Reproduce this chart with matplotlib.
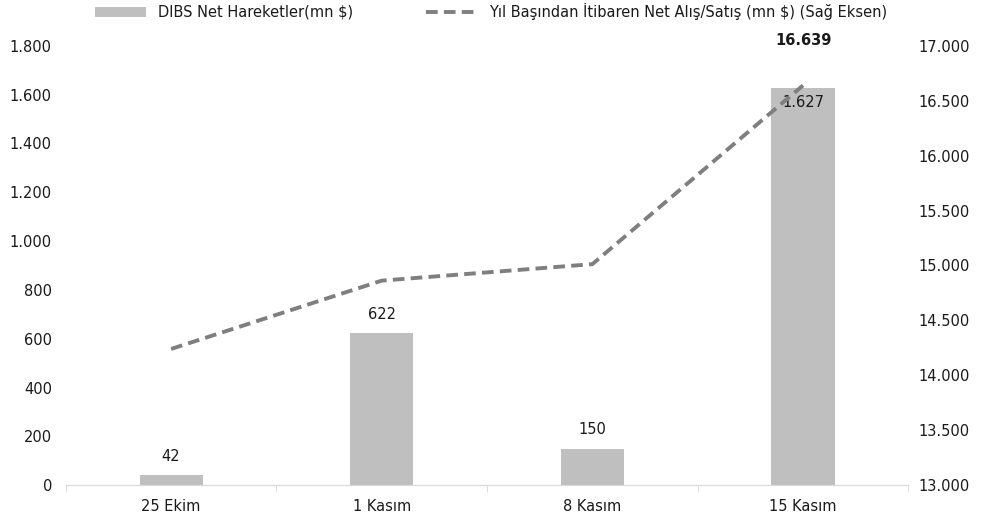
import numpy as np
import matplotlib.pyplot as plt
from matplotlib.lines import Line2D
from matplotlib.patches import Patch

plt.rcParams['font.family'] = ['DejaVu Sans']

# data
categories = ["25 Ekim", "1 Kasım", "8 Kasım", "15 Kasım"]
net_flows = [42, 622, 150, 1627]
cumulative = [14240, 14862, 15012, 16639]

bar_color = '#bfbfbf'
line_color = '#7f7f7f'
text_color = '#1a1a1a'

fig = plt.figure(figsize=(9.82, 5.2), dpi=100)
ax = fig.add_axes([0.067, 0.067, 0.858, 0.845])
ax2 = ax.twinx()

x = np.arange(len(categories))
ax.bar(x, net_flows, width=0.3, color=bar_color, zorder=2)
ax.set_xlim(-0.5, len(categories) - 0.5)
ax.set_ylim(0, 1800)
ax.set_yticks(np.arange(0, 1801, 200))
ax.set_yticklabels([f"{v:,}".replace(",", ".") for v in range(0, 1801, 200)])

ax2.plot(x, cumulative, color=line_color, linestyle=(0, (3, 1.6)), linewidth=2.8, zorder=3)
ax2.set_ylim(13000, 17000)
ax2.set_yticks(np.arange(13000, 17001, 500))
ax2.set_yticklabels([f"{v:,}".replace(",", ".") for v in range(13000, 17001, 500)])

# bar labels
for i, v in enumerate(net_flows):
    lbl = f"{v:,}".replace(",", ".")
    if i == len(net_flows) - 1:
        ax.text(i, v - 30, lbl, ha='center', va='top', fontsize=10.5, color=text_color, zorder=5)
    else:
        ax.annotate(lbl, (i, v), xytext=(0, 8), textcoords='offset points',
                    ha='center', va='bottom', fontsize=10.5, color=text_color)

# last cumulative label
last = len(cumulative) - 1
ax2.annotate(f"{cumulative[last]:,}".replace(",", "."), (last, cumulative[last]),
             xytext=(0, 27), textcoords='offset points', ha='center', va='bottom',
             fontsize=10.5, fontweight='bold', color=text_color)

for a in (ax, ax2):
    for s in ('top', 'left', 'right'):
        a.spines[s].set_visible(False)
    a.spines['bottom'].set_color('#d9d9d9')
    a.tick_params(axis='y', length=0, labelsize=10.5, labelcolor=text_color)
ax.tick_params(axis='y', pad=10)
ax2.tick_params(axis='y', pad=7)

ax.set_xticks(x)
ax.set_xticklabels(categories, fontsize=10.5, color=text_color)
ax.tick_params(axis='x', length=0, pad=10)
# category boundary ticks
ax.set_xticks(np.arange(-0.5, len(categories), 1.0), minor=True)
ax.tick_params(axis='x', which='minor', length=5, color='#d9d9d9', direction='out')

handles = [Patch(facecolor=bar_color, edgecolor='none'),
           Line2D([0], [0], color=line_color, linestyle=(0, (3, 1.6)), linewidth=2.8)]
labels = ["DIBS Net Hareketler(mn $)", "Yıl Başından İtibaren Net Alış/Satış (mn $) (Sağ Eksen)"]
fig.legend(handles, labels, loc='upper center', bbox_to_anchor=(0.5, 1.02), ncol=2,
           frameon=False, fontsize=10.5, handlelength=3.5, columnspacing=5.0,
           labelcolor=text_color)

fig.savefig('out.png', dpi=100)
